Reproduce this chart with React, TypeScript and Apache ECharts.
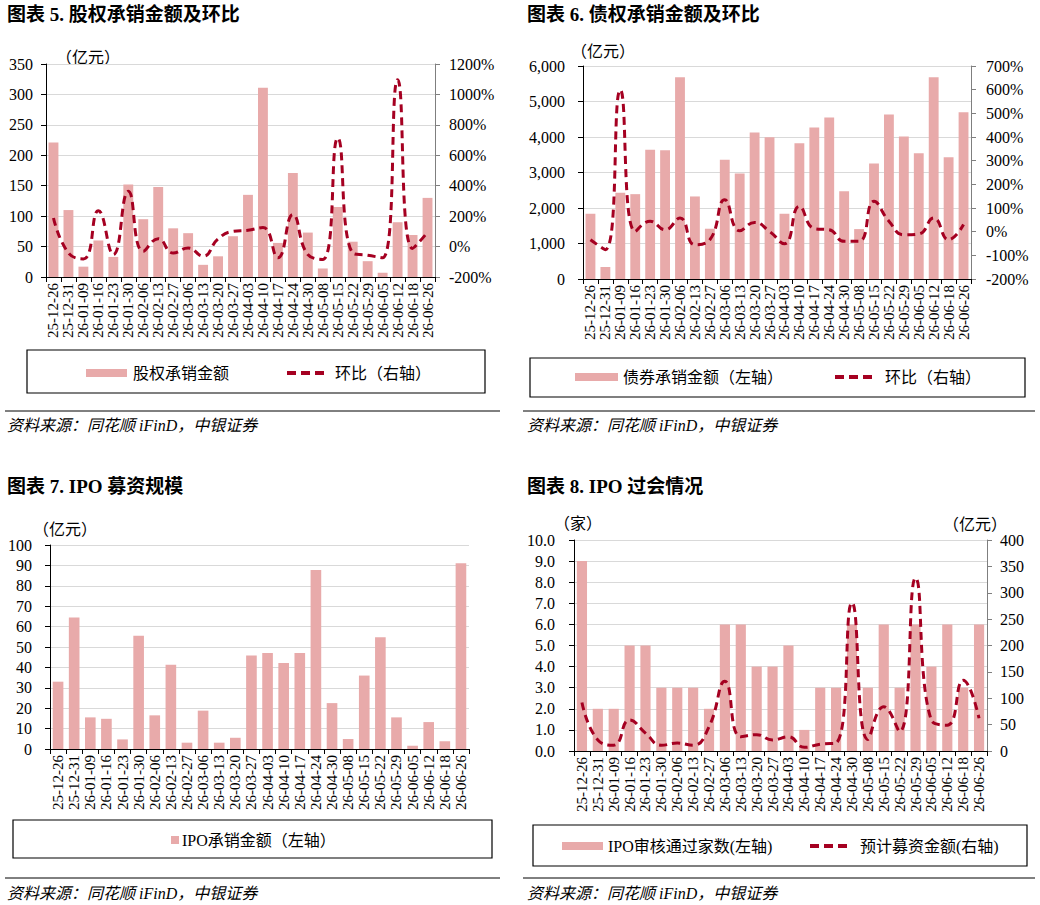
import React, { useEffect, useRef } from "react";
import * as echarts from "echarts";

const categories = [
  "25-12-26", "25-12-31", "26-01-09", "26-01-16", "26-01-23", "26-01-30", "26-02-06",
  "26-02-13", "26-02-27", "26-03-06", "26-03-13", "26-03-20", "26-03-27", "26-04-03",
  "26-04-10", "26-04-17", "26-04-24", "26-04-30", "26-05-08", "26-05-15", "26-05-22",
  "26-05-29", "26-06-05", "26-06-12", "26-06-18", "26-06-26",
];

const equityAmount = [221, 110, 17, 60, 33, 152, 95, 148, 80, 72, 20, 34, 67, 135, 311, 56, 171, 73, 14, 115, 58, 26, 7, 90, 69, 130];
const equityQoQ = [188, -42, -81, 236, -52, 363, -31, 52, -42, -9, -63, 50, 100, 107, 125, -74, 210, -52, -85, 713, -42, -57, -74, 1096, -12, 94];

const bondAmount = [1838, 338, 2428, 2390, 3638, 3628, 5681, 2325, 1416, 3356, 2972, 4125, 3994, 1838, 3825, 4266, 4547, 2475, 1406, 3253, 4631, 4012, 3544, 5681, 3431, 4697];
const bondQoQ = [-34, -76, 599, 1, 44, 8, 58, -55, -34, 135, 4, 39, 1, -51, 107, 13, 8, -41, -41, 128, 44, -13, -10, 58, -34, 30];

const ipoAmount = [33, 64.4, 15.5, 14.8, 4.7, 55.5, 16.5, 41.3, 3.1, 18.8, 3.1, 5.5, 45.8, 47, 42.1, 47, 87.8, 22.5, 4.9, 36, 54.8, 15.5, 1.6, 13.2, 3.8, 91];

const ipoApproved = [9, 2, 2, 5, 5, 3, 3, 3, 2, 6, 6, 4, 4, 5, 1, 3, 3, 6, 3, 6, 3, 6, 4, 6, 3, 6];
const ipoPlannedFunds = [92, 21, 11, 59, 34, 11, 15, 11, 46, 132, 27, 31, 21, 27, 7, 13, 15, 281, 22, 84, 37, 328, 58, 49, 134, 62];

const BAR = "#E8AAAA";
const LINE = "#A50021";
const SERIF = '"Liberation Serif", "Noto Sans CJK SC", serif';
const CJK = '"Noto Sans CJK SC", "Liberation Serif", sans-serif';

function xAxis(gridIndex: number) {
  return {
    type: "category",
    gridIndex,
    data: categories,
    axisLine: { show: true, onZero: false, lineStyle: { color: "#000", width: 1 } },
    axisTick: { show: true, length: 5, lineStyle: { color: "#000" } },
    axisLabel: {
      interval: 0,
      rotate: 90,
      fontSize: 15,
      fontFamily: SERIF,
      color: "#000",
      margin: 6,
    },
    splitLine: { show: false },
  };
}

function yAxis(gridIndex: number, o: any) {
  const right = o.position === "right";
  return {
    type: "value",
    gridIndex,
    position: o.position,
    min: o.min,
    max: o.max,
    interval: o.interval,
    axisLine: { show: true, lineStyle: { color: right ? "#7f7f7f" : "#000", width: 1 } },
    axisTick: { show: true, length: 5, lineStyle: { color: right ? "#7f7f7f" : "#000" } },
    axisLabel: {
      fontSize: 16,
      fontFamily: SERIF,
      color: "#000",
      margin: o.margin,
      formatter: o.formatter,
    },
    splitLine: { show: !right, lineStyle: { color: "#d9d9d9", width: 1 } },
  };
}

function txt(x: number, y: number, text: string, font: string, extra: any = {}) {
  return {
    type: "text",
    x,
    y,
    silent: true,
    style: {
      text,
      font,
      fill: "#000",
      align: "left",
      verticalAlign: "middle",
      textAlign: "left",
      textVerticalAlign: "middle",
      ...extra,
    },
  };
}

function hline(x1: number, x2: number, y: number, w = 1, dash?: number[], color = "#000") {
  return {
    type: "line",
    silent: true,
    shape: { x1, y1: y, x2, y2: y },
    style: { stroke: color, lineWidth: w, lineDash: dash },
  };
}

function box(x: number, y: number, w: number, h: number) {
  return {
    type: "rect",
    silent: true,
    shape: { x, y, width: w, height: h },
    style: { fill: "none", stroke: "#000", lineWidth: 1.2 },
  };
}

function swatch(x: number, y: number, w: number, h: number) {
  return {
    type: "rect",
    silent: true,
    shape: { x, y: y - h / 2, width: w, height: h },
    style: { fill: BAR },
  };
}

const pct = (v: number) => v + "%";

export default function App() {
  const ref = useRef<HTMLDivElement>(null);
  useEffect(() => {
    if (!ref.current) return;
    const chart = echarts.init(ref.current, null, { renderer: "svg" });
    const titleFont = `bold 19px ${SERIF}`;
    const unitFont = `16px ${CJK}`;
    const legFont = `16px ${SERIF}`;
    const srcFont = `italic 16px ${SERIF}`;
    const option: any = {
      animation: false,
      backgroundColor: "#fff",
      grid: [
        { left: 46, top: 64, width: 389, height: 213 },
        { left: 583, top: 66, width: 388, height: 213 },
        { left: 50, top: 545, width: 419, height: 204 },
        { left: 574, top: 540, width: 413, height: 211 },
      ],
      xAxis: [xAxis(0), xAxis(1), xAxis(2), xAxis(3)],
      yAxis: [
        yAxis(0, { position: "left", min: 0, max: 350, interval: 50, margin: 13 }),
        yAxis(0, { position: "right", min: -200, max: 1200, interval: 200, margin: 14, formatter: pct }),
        yAxis(1, {
          position: "left", min: 0, max: 6000, interval: 1000, margin: 18,
          formatter: (v: number) => v.toLocaleString("en-US"),
        }),
        yAxis(1, { position: "right", min: -200, max: 700, interval: 100, margin: 15, formatter: pct }),
        yAxis(2, { position: "left", min: 0, max: 100, interval: 10, margin: 18 }),
        yAxis(3, {
          position: "left", min: 0, max: 10, interval: 1, margin: 19,
          formatter: (v: number) => v.toFixed(1),
        }),
        yAxis(3, { position: "right", min: 0, max: 400, interval: 50, margin: 13 }),
      ],
      series: [
        {
          name: "股权承销金额", type: "bar", xAxisIndex: 0, yAxisIndex: 0,
          data: equityAmount, barWidth: "66%", itemStyle: { color: BAR },
        },
        {
          name: "环比（右轴）", type: "line", xAxisIndex: 0, yAxisIndex: 1,
          data: equityQoQ, smooth: true, symbol: "none",
          lineStyle: { color: LINE, width: 3, type: [8, 5] },
        },
        {
          name: "债券承销金额（左轴）", type: "bar", xAxisIndex: 1, yAxisIndex: 2,
          data: bondAmount, barWidth: "66%", itemStyle: { color: BAR },
        },
        {
          name: "债券环比（右轴）", type: "line", xAxisIndex: 1, yAxisIndex: 3,
          data: bondQoQ, smooth: true, symbol: "none",
          lineStyle: { color: LINE, width: 3, type: [8, 5] },
        },
        {
          name: "IPO承销金额（左轴）", type: "bar", xAxisIndex: 2, yAxisIndex: 4,
          data: ipoAmount, barWidth: "66%", itemStyle: { color: BAR },
        },
        {
          name: "IPO审核通过家数(左轴)", type: "bar", xAxisIndex: 3, yAxisIndex: 5,
          data: ipoApproved, barWidth: "64%", itemStyle: { color: BAR },
        },
        {
          name: "预计募资金额(右轴)", type: "line", xAxisIndex: 3, yAxisIndex: 6,
          data: ipoPlannedFunds, smooth: true, symbol: "none",
          lineStyle: { color: LINE, width: 3, type: [8, 5] },
        },
      ],
      graphic: [
        // titles
        txt(7, 14, "图表 5. 股权承销金额及环比", titleFont),
        txt(527, 14, "图表 6. 债权承销金额及环比", titleFont),
        txt(7, 486, "图表 7. IPO 募资规模", titleFont),
        txt(527, 486, "图表 8. IPO 过会情况", titleFont),
        // units
        txt(56, 56, "（亿元）", unitFont),
        txt(571, 50, "（亿元）", unitFont),
        txt(33, 528, "（亿元）", unitFont),
        txt(554, 522, "（家）", unitFont),
        txt(943, 523, "（亿元）", unitFont),
        // legend chart 5
        box(27, 350, 458, 43),
        swatch(86, 373, 41, 8),
        txt(133, 373, "股权承销金额", legFont),
        hline(287, 327, 373, 4, [9, 5], LINE),
        txt(335, 373, "环比（右轴）", legFont),
        // legend chart 6
        box(530, 358, 495, 39),
        swatch(575, 377, 43, 8),
        txt(623, 377, "债券承销金额（左轴）", legFont),
        hline(835, 877, 377, 4, [9, 5], LINE),
        txt(885, 377, "环比（右轴）", legFont),
        // legend chart 7
        box(13, 820, 479, 38),
        swatch(171, 840, 8, 8),
        txt(182, 840, "IPO承销金额（左轴）", legFont),
        // legend chart 8
        box(533, 825, 494, 41),
        swatch(562, 846, 41, 8),
        txt(608, 846, "IPO审核通过家数(左轴)", legFont),
        hline(810, 848, 846, 4, [9, 5], LINE),
        txt(860, 846, "预计募资金额(右轴)", legFont),
        // separators
        hline(5, 500, 411, 1),
        hline(523, 1035, 411, 1),
        hline(5, 500, 878, 1),
        hline(523, 1035, 878, 1),
        // sources
        txt(7, 425, "资料来源：同花顺 iFinD，中银证券", srcFont),
        txt(527, 425, "资料来源：同花顺 iFinD，中银证券", srcFont),
        txt(7, 893, "资料来源：同花顺 iFinD，中银证券", srcFont),
        txt(527, 893, "资料来源：同花顺 iFinD，中银证券", srcFont),
      ],
    };
    chart.setOption(option);
    return () => chart.dispose();
  }, []);
  return (
    <div
      ref={ref}
      style={{ position: "fixed", left: 0, top: 0, width: 1040, height: 905, background: "#fff" }}
    />
  );
}
